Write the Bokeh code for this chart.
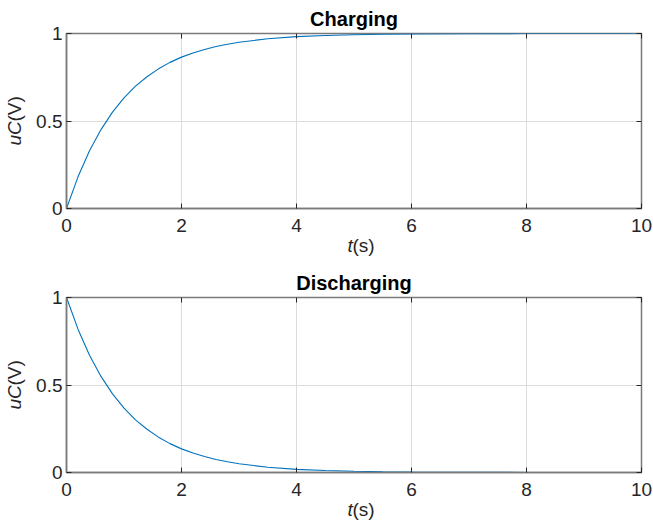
from bokeh.plotting import figure
from bokeh.models import LinearAxis, Title, FixedTicker, Range1d
from bokeh.layouts import column
from bokeh.embed import file_html
from bokeh.resources import INLINE

# Data
t_s = [0, 0.2, 0.4, 0.6, 0.8, 1.0, 1.2, 1.4, 1.6, 1.8, 2.0, 2.2, 2.4, 2.6, 2.8, 3.0,
       3.5, 4.0, 4.5, 5.0, 5.5, 6.0, 7.0, 8.0, 9.0, 10.0]
charging_v = [0.0, 0.181, 0.330, 0.451, 0.551, 0.632, 0.699, 0.753, 0.798, 0.835, 0.865,
              0.889, 0.909, 0.926, 0.939, 0.950, 0.970, 0.982, 0.989, 0.993, 0.996,
              0.9975, 0.999, 0.9997, 0.9999, 1.0]
discharging_v = [1.0, 0.819, 0.670, 0.549, 0.449, 0.368, 0.301, 0.247, 0.202, 0.165, 0.135,
                 0.111, 0.091, 0.074, 0.061, 0.050, 0.030, 0.018, 0.011, 0.007, 0.004,
                 0.0025, 0.001, 0.0003, 0.0001, 0.0]
titles = ["Charging", "Discharging"]
x_ticks = [0, 2, 4, 6, 8, 10]
y_ticks = [0, 0.5, 1]

FONT = "Liberation Sans"
TXT = "#262626"
BOX = "#7a7a7a"
LINE = "#0072BD"
FRAME_H = 175


def make_panel(yvals, title, top_border, bottom_border):
    h = top_border + FRAME_H + bottom_border
    p = figure(width=653, height=h, output_backend="svg", toolbar_location=None,
               x_range=Range1d(0, 10), y_range=Range1d(0, 1), title=None,
               min_border_left=66, min_border_right=12,
               min_border_top=top_border, min_border_bottom=bottom_border)
    p.background_fill_color = "white"
    p.border_fill_color = "white"
    p.outline_line_color = BOX
    p.outline_line_width = 1.5

    xax = p.xaxis[0]
    yax = p.yaxis[0]
    for ax, ticks in ((xax, x_ticks), (yax, y_ticks)):
        ax.ticker = FixedTicker(ticks=ticks)
        ax.axis_line_color = BOX
        ax.axis_line_width = 1.5
        ax.major_tick_in = 5
        ax.major_tick_out = 0
        ax.major_tick_line_color = TXT
        ax.minor_tick_line_color = None
        ax.major_label_text_font = FONT
        ax.major_label_text_font_size = "19px"
        ax.major_label_text_color = TXT
    xax.major_label_standoff = 10
    yax.major_label_standoff = 4

    # extra axes for inner ticks on top and right (labels not drawn)
    top = LinearAxis(ticker=FixedTicker(ticks=x_ticks), axis_line_color=None,
                     major_tick_in=5, major_tick_out=0, major_tick_line_color=TXT,
                     minor_tick_line_color=None, major_label_text_font_size="1px",
                     major_label_text_color=None, major_label_standoff=0)
    right = LinearAxis(ticker=FixedTicker(ticks=y_ticks), axis_line_color=None,
                       major_tick_in=5, major_tick_out=0, major_tick_line_color=TXT,
                       minor_tick_line_color=None, major_label_text_font_size="1px",
                       major_label_text_color=None, major_label_standoff=0)
    p.add_layout(top, "above")
    p.add_layout(right, "right")

    p.add_layout(Title(text=title, align="center", vertical_align="bottom", standoff=8,
                       text_font=FONT, text_font_size="20px", text_font_style="bold",
                       text_color="black"), "above")

    p.grid.grid_line_color = "#dcdcdc"
    p.grid.grid_line_width = 1
    p.xgrid.ticker = FixedTicker(ticks=x_ticks)
    p.ygrid.ticker = FixedTicker(ticks=y_ticks)

    p.line(t_s, yvals, line_color=LINE, line_width=1.1)

    # axis labels with italic variable names: zero-size title panels that
    # overlap each other next to the axis panel
    tk = dict(text_font=FONT, text_font_size="19px", text_color=TXT, align="left")
    p.add_layout(Title(text="t", offset=281, standoff=-42, vertical_align="bottom",
                       text_font_style="italic", **tk), "below")
    p.add_layout(Title(text="(s)", offset=286, standoff=-42, vertical_align="bottom",
                       text_font_style="normal", **tk), "below")
    p.add_layout(Title(text="uC", offset=63, standoff=-60, vertical_align="top",
                       text_font_style="italic", **tk), "left")
    p.add_layout(Title(text="(V)", offset=87, standoff=-60, vertical_align="top",
                       text_font_style="normal", **tk), "left")
    return p


p1 = make_panel(charging_v, titles[0], 33, 55)
p2 = make_panel(discharging_v, titles[1], 34, 54)
layout = column(p1, p2, spacing=0)

open("out.html", "w").write(file_html(layout, INLINE))
